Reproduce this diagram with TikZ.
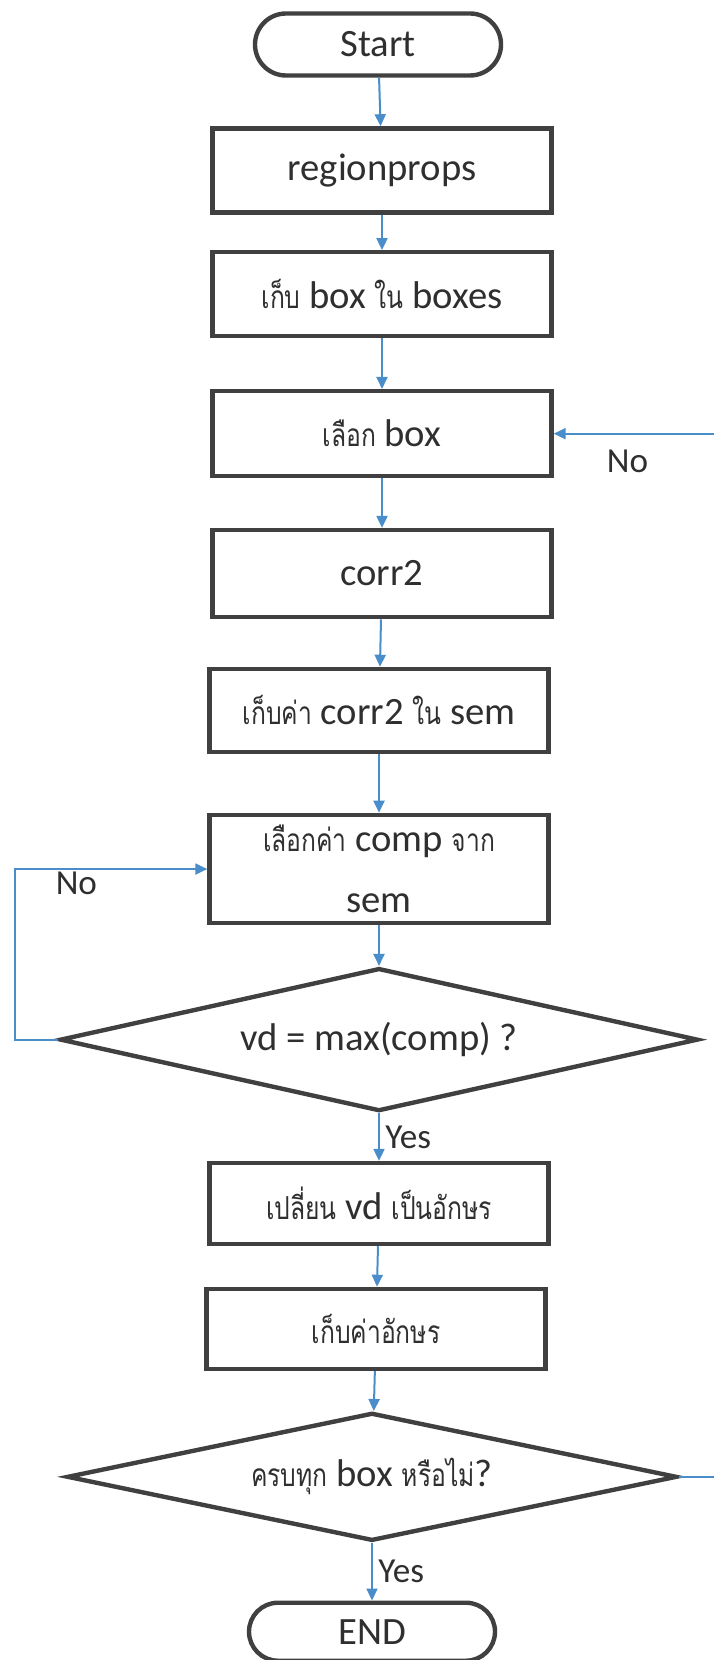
\documentclass[tikz,border=0pt]{standalone}
\usepackage{fontspec}
\setmainfont{Carlito}
\newfontfamily\thaifont[Script=Thai,FakeStretch=0.78]{Loma}
\usetikzlibrary{positioning,arrows.meta,shapes.geometric}
\definecolor{ink}{HTML}{404040}
\definecolor{flowblue}{HTML}{4A8DCB}
\definecolor{txt}{HTML}{2F2F2F}
\newcommand{\thaiw}[1]{{\thaifont\fontsize{9}{12}\selectfont #1}}
\tikzset{
  stepbox/.style={draw=ink,line width=1.25pt,fill=white,minimum width=33.9mm,minimum height=8.4mm,inner sep=1mm,align=center,text=txt},
  term/.style={draw=ink,line width=1.25pt,rounded corners=3.1mm,minimum width=24.6mm,minimum height=6.2mm,inner sep=0.5mm,text=txt},
  decision/.style={draw=ink,line width=1.25pt,diamond,aspect=4.4,inner sep=0pt,align=center,text=txt},
  flow/.style={-{Triangle[length=1.2mm,width=1.1mm]},draw=flowblue,line width=0.2mm},
  lbl/.style={font=\fontsize{10}{12}\selectfont,text=txt,inner sep=1.5pt}}

\begin{document}
\begin{tikzpicture}[font=\fontsize{11}{17.5}\selectfont,node distance=5mm]
  \useasboundingbox (0,0) rectangle (71.3mm,-166mm);
  \node[term] (start) at (37.8mm,-4.45mm) {Start};
  \node[stepbox,below=4.85mm of start,xshift=0.4mm] (props) {regionprops};
  \node[stepbox,below=3.55mm of props] (boxes) {\thaiw{เก็บ} box \thaiw{ใน} boxes};
  \node[stepbox,below=5.05mm of boxes,minimum height=8.5mm] (pick) {\thaiw{เลือก} box};
  \node[stepbox,below=4.95mm of pick,minimum height=8.7mm] (corr) {corr2};
  \node[stepbox,below=4.75mm of corr,minimum height=8.3mm,xshift=-0.3mm] (keepcorr) {\thaiw{เก็บค่า} corr2 \thaiw{ใน} sem};
  \node[stepbox,below=5.85mm of keepcorr,minimum height=10.3mm] (comp) {\thaiw{เลือกค่า} comp \thaiw{จาก}\\sem};
  \node[decision,below=4.05mm of comp,minimum width=63.8mm,minimum height=14.3mm] (maxq) {vd = max(comp) ?};
  \node[stepbox,below=4.75mm of maxq,minimum height=8.1mm] (tochar) {\thaiw{เปลี่ยน} vd \thaiw{เป็นอักษร}};
  \node[stepbox,below=4.05mm of tochar,minimum height=8mm,xshift=-0.3mm] (keepchar) {\thaiw{เก็บค่าอักษร}};
  \node[decision,below=3.95mm of keepchar,minimum width=61mm,minimum height=12.8mm,xshift=-0.4mm] (allq) {\thaiw{ครบทุก} box \thaiw{หรือไม่}?};
  \node[term,below=5.75mm of allq,minimum height=5.8mm,rounded corners=2.9mm] (stop) {END};
  \draw[flow] (start) -- (props);
  \draw[flow] (props) -- (boxes);
  \draw[flow] (boxes) -- (pick);
  \draw[flow] (pick) -- (corr);
  \draw[flow] (corr) -- (keepcorr);
  \draw[flow] (keepcorr) -- (comp);
  \draw[flow] (comp) -- (maxq);
  \draw[flow] (maxq) -- node[lbl,right]{Yes} (tochar);
  \draw[flow] (tochar) -- (keepchar);
  \draw[flow] (keepchar) -- (allq);
  \draw[flow] (allq) -- node[lbl,right]{Yes} (stop);
  \draw[flow] (maxq.west) -- ++(-4.3mm,0) |- node[lbl,pos=0.66,below,yshift=0.3mm]{No} (comp.west);
  \draw[flow] (allq.east) -- ++(5mm,0) |- node[lbl,pos=0.79,below,yshift=-1mm]{No} (pick.east);
\end{tikzpicture}
\end{document}
